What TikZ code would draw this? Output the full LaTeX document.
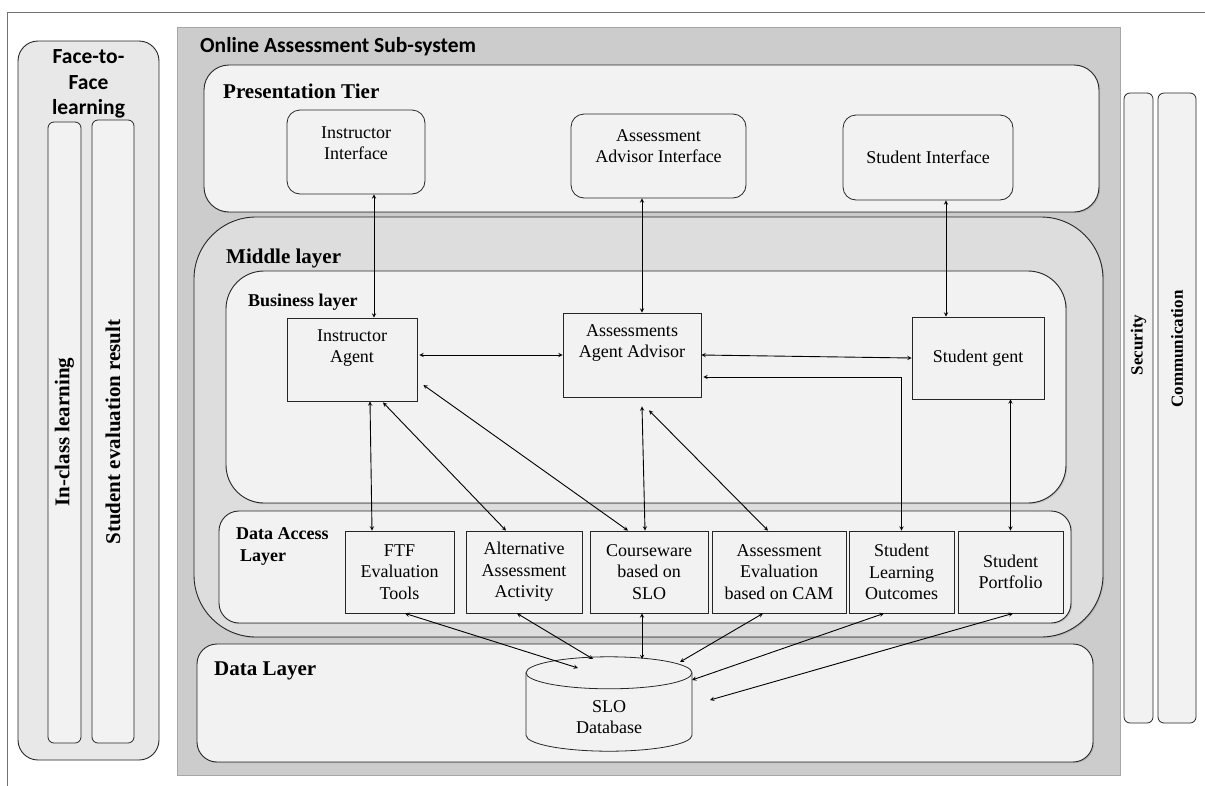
\documentclass[tikz,border=0pt]{standalone}
\usepackage{fontspec}
\setmainfont{Liberation Serif}
\newfontfamily\calibrifont{Carlito}
\usepackage{xcolor}
\usetikzlibrary{shapes.geometric, arrows, positioning, calc, shadows}
\definecolor{sysgray}{HTML}{CCCCCC}
\definecolor{midgray}{HTML}{DDDDDD}
\definecolor{panelfill}{HTML}{F2F2F2}
\definecolor{sidefill}{HTML}{E8E8E8}
\tikzstyle{outerframe} = [draw=black!55, line width=0.8pt]
\tikzstyle{sysframe} = [draw=black!35, fill=sysgray, line width=0.8pt]
\tikzstyle{panel} = [draw=black!85, fill=panelfill, line width=0.9pt, drop shadow={shadow xshift=1.2pt, shadow yshift=-1.2pt, opacity=0.3}]
\tikzstyle{midpanel} = [draw=black!85, fill=midgray, line width=0.9pt, drop shadow={shadow xshift=1.2pt, shadow yshift=-1.2pt, opacity=0.3}]
\tikzstyle{sidepanel} = [draw=black!85, fill=sidefill, line width=0.9pt]
\tikzstyle{sidecol} = [draw=black!85, fill=panelfill, line width=0.8pt, rounded corners=6pt]
\tikzstyle{iface} = [rectangle, rounded corners=13pt, draw=black!85, fill=panelfill, line width=0.8pt, align=center, inner sep=0pt, font=\fontsize{18}{21.5}\selectfont]
\tikzstyle{agent} = [rectangle, draw=black!85, fill=panelfill, line width=0.8pt, align=center, inner sep=0pt, font=\fontsize{18}{21.5}\selectfont]
\tikzstyle{dbnode} = [rectangle, inner sep=0pt, minimum width=166, minimum height=94]
\tikzstyle{dbshape} = [draw=black!85, fill=panelfill, line width=0.8pt]
\tikzstyle{systitle} = [inner sep=0pt, font=\calibrifont\bfseries\fontsize{21.5}{25.5}\selectfont]
\tikzstyle{title} = [inner sep=0pt, font=\bfseries\fontsize{21}{25}\selectfont]
\tikzstyle{subtitle} = [inner sep=0pt, align=left, font=\bfseries\fontsize{18}{22.5}\selectfont]
\tikzstyle{sidelabel} = [inner sep=0pt, rotate=90, font=\bfseries\fontsize{21}{25}\selectfont]
\tikzstyle{arrow} = [line width=0.9pt, <->, >=stealth]

\begin{document}
\begin{tikzpicture}[x=1pt, y=-1pt]
\useasboundingbox (0,0) rectangle (1205,785);

% Cornici esterne
\draw[outerframe] (7,12) rectangle (1240,800);
\draw[sysframe] (177,27) rectangle (1120,775);
\node (oas) [systitle, anchor=base west] at (200,52) {Online Assessment Sub-system};

% Face-to-Face learning
\draw[sidepanel, rounded corners=20pt] (18,41) rectangle (159,760);
\node (f2f) [systitle, align=center] at (88.5,84) {Face-to-\\Face\\learning};
\draw[sidecol] (48,122) rectangle (81,743);
\draw[sidecol] (92,120) rectangle (134,743);
\node (inclass) [sidelabel] at (64.5,432) {In-class learning};
\node (evalres) [sidelabel] at (113,432) {Student evaluation result};

% Security e Communication
\draw[sidecol] (1124,93) rectangle (1153,723);
\draw[sidecol] (1158,93) rectangle (1196,723);
\node (sec) [sidelabel, font=\bfseries\fontsize{17}{20}\selectfont] at (1138.5,345) {Security};
\node (comm) [sidelabel, font=\bfseries\fontsize{17}{20}\selectfont] at (1177,349) {Communication};

% Livelli
\draw[panel, rounded corners=25pt] (204,65) rectangle (1099,212);
\node (pt) [title, anchor=base west] at (223,98) {Presentation Tier};
\draw[midpanel, rounded corners=62pt] (194,217) rectangle (1103,637);
\node (ml) [title, anchor=base west] at (226,263) {Middle layer};
\draw[panel, rounded corners=38pt] (226,271) rectangle (1066,503);
\node (bl) [subtitle, anchor=base west] at (248,306) {Business layer};
\draw[panel, rounded corners=20pt] (219,511) rectangle (1071,623);
\node (dal) [subtitle, anchor=west] at (236,546.5) {Data Access\\\hspace*{4pt}Layer};
\draw[panel, rounded corners=20pt] (197,644) rectangle (1093,762);
\node (dl) [title, anchor=base west] at (214,675) {Data Layer};

% Definizione dei nodi
\node (ii) [iface, minimum width=138, minimum height=84, text depth=18pt] at (356,152) {Instructor\\Interface};
\node (ai) [iface, minimum width=175, minimum height=84, text depth=20pt] at (658.5,156) {Assessment\\Advisor Interface};
\node (si) [iface, minimum width=170, minimum height=85] at (928,157.5) {Student Interface};

\node (ia) [agent, minimum width=130, minimum height=83, text depth=27pt] at (352,359.5) {Instructor\\Agent};
\node (aa) [agent, minimum width=138, minimum height=84, text depth=28pt] at (632,355) {Assessments\\Agent Advisor};
\node (sa) [agent, minimum width=132, minimum height=82] at (978,358) {Student gent};

\node (ftf) [agent, minimum width=109, minimum height=82] at (399.5,572) {FTF\\Evaluation\\Tools};
\node (alt) [agent, minimum width=116, minimum height=82] at (524,572) {Alternative\\Assessment\\Activity};
\node (cw) [agent, minimum width=118, minimum height=82] at (649,572) {Courseware\\based on\\SLO};
\node (cam) [agent, minimum width=134, minimum height=82] at (779,572) {Assessment\\Evaluation\\based on CAM};
\node (slo) [agent, minimum width=105, minimum height=82] at (901.5,572) {Student\\Learning\\Outcomes};
\node (port) [agent, minimum width=105, minimum height=82] at (1010.5,572) {Student\\Portfolio};

% Database SLO
\node (db) [dbnode] at (609,704) {};
\coordinate (dbtop) at ($(db.north)+(0,16)$);
\coordinate (dbbot) at ($(db.south)+(0,-16)$);
\draw[dbshape] ($(dbtop)+(-83,0)$) -- ($(dbbot)+(-83,0)$) arc[start angle=180, end angle=0, x radius=83, y radius=16] -- ($(dbtop)+(83,0)$);
\draw[dbshape] (dbtop) ellipse [x radius=83, y radius=16];
\node (dbtext) [align=center, inner sep=0pt, font=\fontsize{18}{21.5}\selectfont] at ($(db.center)+(0,13)$) {SLO\\Database};
\coordinate (dbfree) at (710,700);

% Connessione tra i nodi
\draw [arrow] ($(ii.south)+(18,0)$) -- ($(ia.north)+(22,0)$);
\draw [arrow] ($(ai.south)+(-16.5,0)$) -- ($(aa.north)+(10,0)$);
\draw [arrow] ($(si.south)+(18,0)$) -- ($(sa.north)+(-32,0)$);
\draw [arrow] ($(ia.east |- aa.west)+(2,0)$) -- (aa.west);
\draw [arrow] (aa.east) -- (sa.west);
\draw [arrow] (slo.north) |- ($(aa.east)+(2,22)$);
\draw [arrow] (port.north |- sa.south) -- (port.north);

\draw [arrow] ($(ia.south)+(18,0)$) -- ($(ftf.north)+(-27.5,0)$);
\draw [arrow] ($(ia.south)+(31,1)$) -- ($(alt.north)+(-18,0)$);
\draw [arrow] ($(ia.east)+(6,25.5)$) -- ($(cw.north)+(-21,0)$);
\draw [arrow] ($(aa.south)+(10,9)$) -- ($(cw.north)+(-4,0)$);
\draw [arrow] ($(aa.south)+(17,13)$) -- ($(cam.north)+(-11,0)$);

\draw [arrow] ($(ftf.south)+(5.5,0)$) -- ($(db.center)+(-31,-36)$);
\draw [arrow] ($(alt.south)+(-7,0)$) -- ($(db.center)+(-16,-45)$);
\draw [arrow] ($(cw.south)+(-7,0)$) -- ($(db.center)+(33,-45)$);
\draw [arrow] ($(cam.south)+(-16,0)$) -- ($(db.center)+(71,-42)$);
\draw [arrow] ($(slo.south)+(-17.5,0)$) -- ($(db.center)+(83,-24)$);
\draw [arrow] ($(port.south)+(2.5,0)$) -- (dbfree);

\end{tikzpicture}
\end{document}
